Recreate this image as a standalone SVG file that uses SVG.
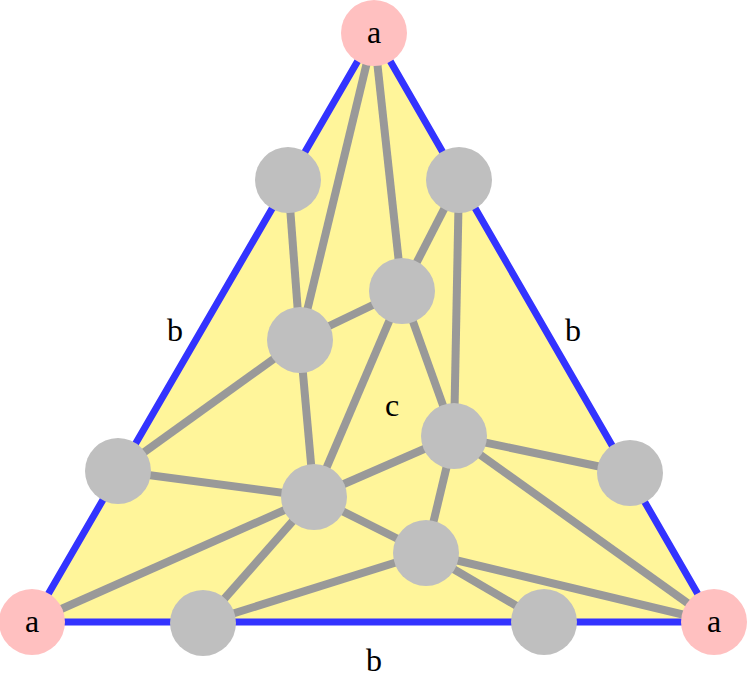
<svg xmlns="http://www.w3.org/2000/svg" width="748" height="684" viewBox="0 0 748 684">
<style>
.e{stroke:#999;stroke-width:8;fill:none}
.g{fill:#bfbfbf}
.p{fill:#ffc0c0}
text{font-family:"Liberation Serif",serif;font-size:32px;fill:#000;text-anchor:middle}
</style>
<polygon points="374,33 32,622 714,622" fill="#fff59a" stroke="#3333ff" stroke-width="7" stroke-linejoin="round"/>
<g id="connectors">
<line class="e" x1="374" y1="33" x2="300" y2="340"/>
<line class="e" x1="374" y1="33" x2="402" y2="291"/>
<line class="e" x1="288" y1="180" x2="300" y2="340"/>
<line class="e" x1="459" y1="180" x2="402" y2="291"/>
<line class="e" x1="459" y1="180" x2="454" y2="436"/>
<line class="e" x1="300" y1="340" x2="402" y2="291"/>
<line class="e" x1="300" y1="340" x2="118" y2="471"/>
<line class="e" x1="300" y1="340" x2="314" y2="497"/>
<line class="e" x1="402" y1="291" x2="314" y2="497"/>
<line class="e" x1="402" y1="291" x2="454" y2="436"/>
<line class="e" x1="118" y1="471" x2="314" y2="497"/>
<line class="e" x1="454" y1="436" x2="314" y2="497"/>
<line class="e" x1="454" y1="436" x2="630" y2="473"/>
<line class="e" x1="454" y1="436" x2="426" y2="553"/>
<line class="e" x1="454" y1="436" x2="714" y2="622"/>
<line class="e" x1="314" y1="497" x2="32" y2="622"/>
<line class="e" x1="314" y1="497" x2="203" y2="623"/>
<line class="e" x1="314" y1="497" x2="426" y2="553"/>
<line class="e" x1="426" y1="553" x2="203" y2="623"/>
<line class="e" x1="426" y1="553" x2="714" y2="622"/>
<line class="e" x1="426" y1="553" x2="544" y2="622"/>
</g>
<g id="aTop"><circle class="p" cx="374" cy="33" r="33"/><text x="374" y="43">a</text></g>
<g id="aLeft"><circle class="p" cx="32" cy="622" r="33"/><text x="32" y="632">a</text></g>
<g id="aRight"><circle class="p" cx="714" cy="622" r="33"/><text x="714" y="632">a</text></g>
<g id="n1"><circle class="g" cx="288" cy="180" r="33"/></g>
<g id="n2"><circle class="g" cx="459" cy="180" r="33"/></g>
<g id="n3"><circle class="g" cx="402" cy="291" r="33"/></g>
<g id="n4"><circle class="g" cx="300" cy="340" r="33"/></g>
<g id="n5"><circle class="g" cx="454" cy="436" r="33"/></g>
<g id="n6"><circle class="g" cx="118" cy="471" r="33"/></g>
<g id="n7"><circle class="g" cx="314" cy="497" r="33"/></g>
<g id="n8"><circle class="g" cx="630" cy="473" r="33"/></g>
<g id="n9"><circle class="g" cx="426" cy="553" r="33"/></g>
<g id="n10"><circle class="g" cx="203" cy="623" r="33"/></g>
<g id="n11"><circle class="g" cx="544" cy="622" r="33"/></g>
<text x="175" y="341">b</text>
<text x="573" y="341">b</text>
<text x="374" y="671">b</text>
<text x="392" y="416">c</text>
</svg>
